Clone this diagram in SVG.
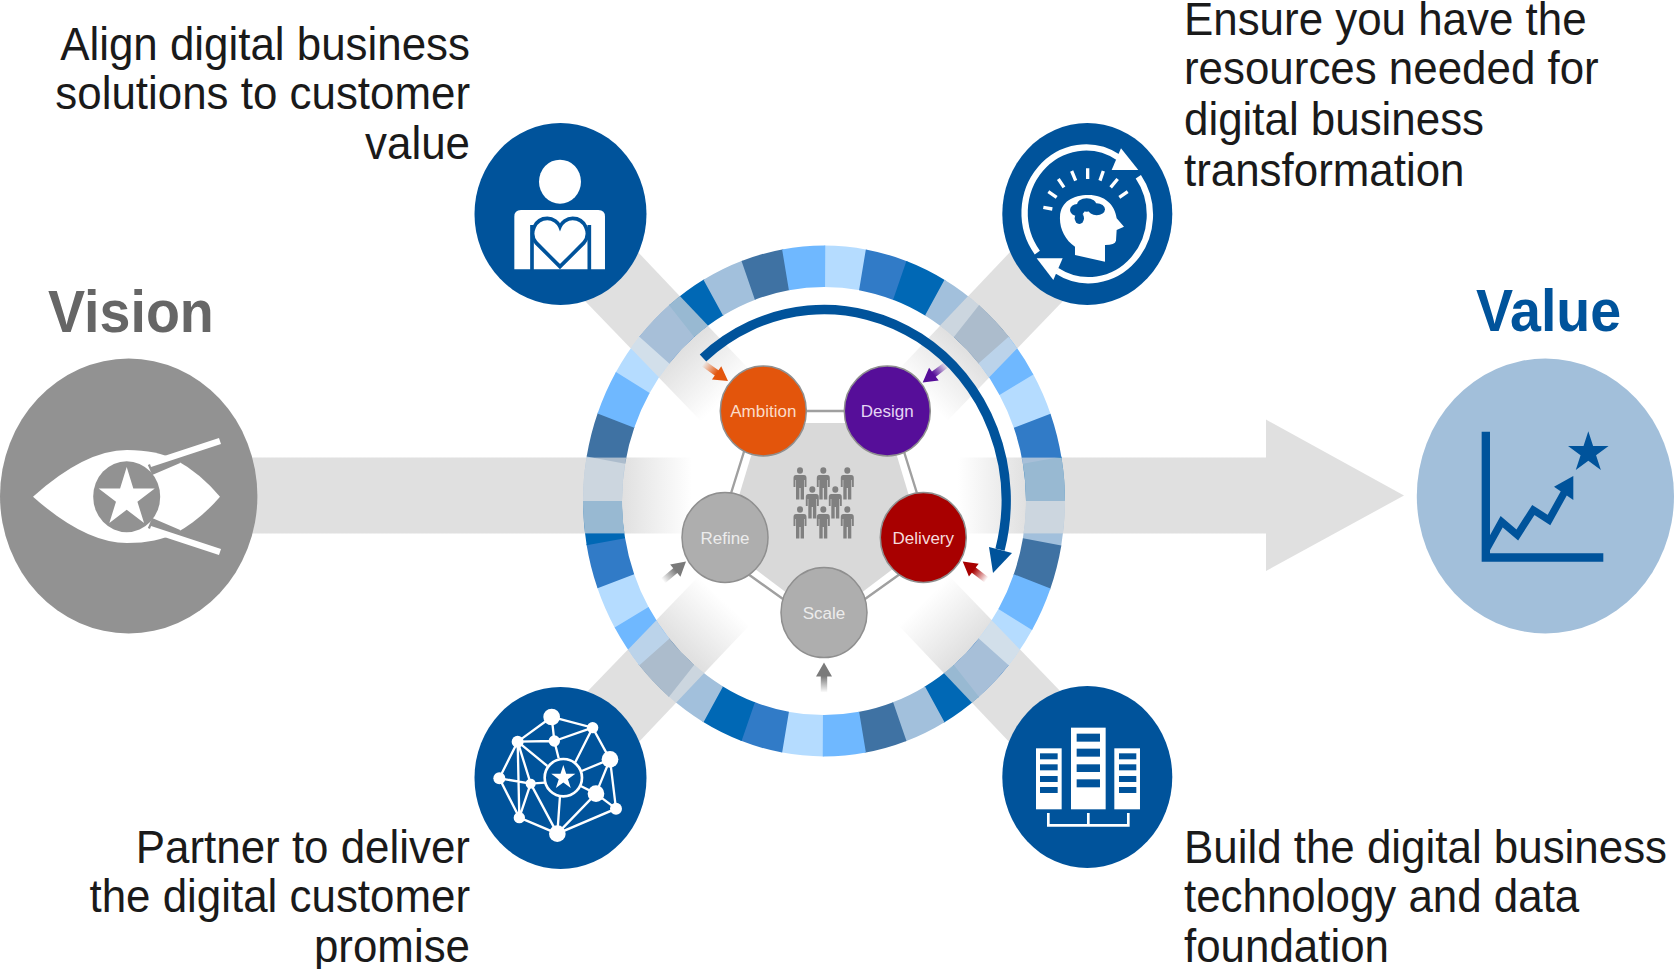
<svg xmlns="http://www.w3.org/2000/svg" width="1674" height="969" viewBox="0 0 1674 969">
<style>
text{font-family:"Liberation Sans",Arial,sans-serif}
.body{font-size:43.9px;fill:#1a1a1a}
.end{text-anchor:end}
.big{font-size:55.6px;font-weight:bold}
.nl{font-size:17px;text-anchor:middle}
.ov{fill:#e0e0e0;opacity:.68}
.seg{fill:none;stroke-width:39;stroke-dasharray:10.3 49.7}
.icon{fill:#00539b}
.n{stroke:#8f8f8f;stroke-width:1.5}
.ln{stroke:#a0a0a0;stroke-width:2.4;fill:none}
.w{fill:#fff}
.d{fill:#00539b}
.wl{stroke:#fff;fill:none}
</style>
<defs>
<polygon id="star" points="0,-1 .2245,-.309 .951,-.309 .363,.118 .588,.809 0,.382 -.588,.809 -.363,.118 -.951,-.309 -.2245,-.309"/>
<g id="person" fill="#808080"><ellipse cx="0" cy="-13.5" rx="3" ry="3.2"/><path d="M-4,-9H4Q6.5,-9 6.5,-6V3H4.6V-4H4V15.5H.6V4H-.6V15.5H-4V-4H-4.6V3H-6.5V-6Q-6.5,-9 -4,-9Z"/></g>
<polygon id="sa" points="0,0 8,14 3.2,14 3.2,30 -3.2,30 -3.2,14 -8,14"/>
<linearGradient id="ga" x1="0" y1="0" x2="0" y2="1"><stop offset=".45" stop-color="#e3550c"/><stop offset="1" stop-color="#e3550c" stop-opacity="0"/></linearGradient>
<linearGradient id="gd" x1="0" y1="0" x2="0" y2="1"><stop offset=".45" stop-color="#560e99"/><stop offset="1" stop-color="#560e99" stop-opacity="0"/></linearGradient>
<linearGradient id="gl" x1="0" y1="0" x2="0" y2="1"><stop offset=".45" stop-color="#a80000"/><stop offset="1" stop-color="#a80000" stop-opacity="0"/></linearGradient>
<linearGradient id="gg" x1="0" y1="0" x2="0" y2="1"><stop offset=".45" stop-color="#7a7a7a"/><stop offset="1" stop-color="#7a7a7a" stop-opacity="0"/></linearGradient>
<linearGradient id="bl" gradientUnits="userSpaceOnUse" x1="622" y1="0" x2="692" y2="0"><stop offset="0" stop-color="#e0e0e0"/><stop offset="1" stop-color="#e0e0e0" stop-opacity="0"/></linearGradient>
<linearGradient id="br" gradientUnits="userSpaceOnUse" x1="1027" y1="0" x2="958" y2="0"><stop offset="0" stop-color="#e0e0e0"/><stop offset="1" stop-color="#e0e0e0" stop-opacity="0"/></linearGradient>
<linearGradient id="bnw" gradientUnits="userSpaceOnUse" x1="681" y1="350" x2="726" y2="397"><stop offset="0" stop-color="#e0e0e0"/><stop offset="1" stop-color="#e0e0e0" stop-opacity="0"/></linearGradient>
<linearGradient id="bne" gradientUnits="userSpaceOnUse" x1="967" y1="350" x2="922" y2="397"><stop offset="0" stop-color="#e0e0e0"/><stop offset="1" stop-color="#e0e0e0" stop-opacity="0"/></linearGradient>
<linearGradient id="bsw" gradientUnits="userSpaceOnUse" x1="681" y1="650" x2="726" y2="603"><stop offset="0" stop-color="#e0e0e0"/><stop offset="1" stop-color="#e0e0e0" stop-opacity="0"/></linearGradient>
<linearGradient id="bse" gradientUnits="userSpaceOnUse" x1="967" y1="650" x2="922" y2="603"><stop offset="0" stop-color="#e0e0e0"/><stop offset="1" stop-color="#e0e0e0" stop-opacity="0"/></linearGradient>
<clipPath id="ann"><path clip-rule="evenodd" d="M583,501a241,255.5 0 1,0 482,0a241,255.5 0 1,0 -482,0Z M622,501a202,214 0 1,0 404,0a202,214 0 1,0 -404,0Z"/></clipPath>
</defs>

<g id="bands">
<path fill="url(#bl)" d="M240,457.6H692V533.4H240Z"/>
<path fill="url(#br)" d="M958,457.6H1266V419.6L1404,495.5L1266,571V533.4H958Z"/>
<polygon fill="url(#bnw)" points="600,212 765,386 723,444 530,244"/>
<polygon fill="url(#bne)" points="1048,212 883,386 925,444 1118,244"/>
<polygon fill="url(#bsw)" points="600,783 765,609 723,551 530,751"/>
<polygon fill="url(#bse)" points="1048,783 883,609 925,551 1118,751"/>
</g>

<g id="ring">
<g transform="translate(824,501) scale(1,1.06)">
<circle class="seg" r="221.5" pathLength="360" stroke="#b5dcff" transform="rotate(-90)"/>
<circle class="seg" r="221.5" pathLength="360" stroke="#317bc7" transform="rotate(-80)"/>
<circle class="seg" r="221.5" pathLength="360" stroke="#0068b5" transform="rotate(-70)"/>
<circle class="seg" r="221.5" pathLength="360" stroke="#a2c0dc" transform="rotate(-60)"/>
<circle class="seg" r="221.5" pathLength="360" stroke="#3f72a3" transform="rotate(-50)"/>
<circle class="seg" r="221.5" pathLength="360" stroke="#6fb8ff" transform="rotate(-40)"/>
</g>
<g clip-path="url(#ann)">
<rect class="ov" x="570" y="457.6" width="510" height="75.8"/>
<polygon class="ov" points="600,212 745,364.6 703,423 530,244"/>
<polygon class="ov" points="1048,212 903,364.6 945,423 1118,244"/>
<polygon class="ov" points="600,783 745,630 703,572 530,751"/>
<polygon class="ov" points="1048,783 903,630 945,572 1118,751"/>
</g>
</g>

<g id="connectors">
<polygon fill="#d9d9d9" points="761,423 887,423 924,545.5 824,621 724,545.5"/>
<path class="ln" d="M763.3,411H887.3M747,442L728,503M901,442L920,503M748,574L790,604M900,574L858,604"/>
<path d="M703,358A182,191 0 0 1 1000,549.7" fill="none" stroke="#00539b" stroke-width="9.5"/>
<polygon fill="#00539b" points="989,547 1012,553 993,573"/>
<use href="#sa" fill="url(#ga)" transform="translate(728,381) rotate(125.5)"/>
<use href="#sa" fill="url(#gd)" transform="translate(922.7,382.6) rotate(-127)"/>
<use href="#sa" fill="url(#gl)" transform="translate(962.7,561.6) rotate(-52.5)"/>
<use href="#sa" fill="url(#gg)" transform="translate(686,561.6) rotate(50)"/>
<use href="#sa" fill="url(#gg)" transform="translate(824,662.6)"/>
</g>

<g id="people">
<use href="#person" x="800" y="484"/><use href="#person" x="823.3" y="484"/><use href="#person" x="847.3" y="484"/>
<use href="#person" x="812.3" y="503"/><use href="#person" x="835.3" y="503"/>
<use href="#person" x="800" y="523"/><use href="#person" x="823.3" y="523"/><use href="#person" x="847.3" y="523"/>
</g>

<g id="ambition"><ellipse class="n" cx="763.3" cy="411" rx="43" ry="45" fill="#e3550c"/><text class="nl" x="763.3" y="417" fill="#fbdcc8">Ambition</text></g>
<g id="design"><ellipse class="n" cx="887.3" cy="411" rx="43" ry="45" fill="#560e99"/><text class="nl" x="887.3" y="417" fill="#e5d6f4">Design</text></g>
<g id="delivery"><ellipse class="n" cx="923.3" cy="537.5" rx="43" ry="45" fill="#a80000"/><text class="nl" x="923.3" y="544" fill="#f6dcdc">Delivery</text></g>
<g id="scale"><ellipse class="n" cx="824" cy="612.6" rx="43" ry="45" fill="#aeaeae"/><text class="nl" x="824" y="619" fill="#ececec">Scale</text></g>
<g id="refine"><ellipse class="n" cx="725" cy="537.5" rx="43" ry="45" fill="#aeaeae"/><text class="nl" x="725" y="544" fill="#ececec">Refine</text></g>

<g id="vision">
<ellipse cx="128.7" cy="496" rx="128.7" ry="137.5" fill="#929292"/>
<path class="w" d="M33,496.7Q85,450 127,450Q157,450 176,460Q200,473 220,496.7Q200,520 176,533Q157,543 127,543Q85,543 33,496.7Z"/>
<ellipse cx="126.7" cy="496.7" rx="33.5" ry="35.5" fill="#929292"/>
<use href="#star" class="w" transform="translate(126.7,498) scale(29.5,31)"/>
<path d="M150,470L178,458M150,523L178,535" stroke="#929292" stroke-width="11" fill="none"/>
<path d="M150,464L220,441M150,529L220,552" stroke="#fff" stroke-width="6.5" fill="none"/>
<text class="big" transform="translate(48,332) scale(1,1.06)" fill="#666">Vision</text>
</g>

<g id="value">
<ellipse cx="1545.4" cy="496" rx="128.6" ry="137.5" fill="#a2bfda"/>
<g transform="translate(1400,340) scale(.3333)">
<path class="d" d="M245,275H270V640H610V665H245Z"/>
<path d="M258,630L305,545L352,585L400,510L447,540L497,450" fill="none" stroke="#00539b" stroke-width="22"/>
<polygon class="d" points="520,408 462,440 520,480"/>
<use href="#star" class="d" transform="translate(565,338) scale(64)"/>
</g>
<text class="big" transform="translate(1476,331) scale(1,1.06)" fill="#00539b">Value</text>
</g>

<g id="align">
<ellipse class="icon" cx="560.5" cy="214" rx="86" ry="91"/>
<g transform="translate(460,110) scale(.3333)">
<ellipse class="w" cx="300" cy="215" rx="63" ry="66"/>
<path class="w" d="M163,478V320Q163,300 183,300H415Q435,300 435,320V478Z"/>
<path d="M216,345V482M388,345V482" stroke="#00539b" stroke-width="11" fill="none"/>
<path class="w" d="M300,470L228,398C205,370 225,325 262,325C280,325 295,338 300,350C305,338 320,325 338,325C375,325 395,370 372,398Z" stroke="#00539b" stroke-width="11"/>
</g>
<g class="body"><text class="end" transform="translate(470,60) scale(1,1.06)">Align digital business</text>
<text class="end" transform="translate(470,109) scale(1,1.06)">solutions to customer</text>
<text class="end" transform="translate(470,159) scale(1,1.06)">value</text></g>
</g>

<g id="resources">
<ellipse class="icon" cx="1087.3" cy="214" rx="85" ry="91"/>
<g transform="translate(990,110) scale(.3333)">
<path class="wl" stroke-width="19" d="M142,428A184,196 0 0 1 385,142"/>
<polygon class="w" points="393,115 445,180 365,180"/>
<path class="wl" stroke-width="19" d="M445,200A184,196 0 0 1 200,482"/>
<polygon class="w" points="140,445 218,445 190,510"/>
<path class="wl" stroke-width="10" d="M160,292L187,297M175,245L200,262M205,207L222,232M245,183L257,212M293,175V207M340,183L330,212M383,207L362,232M413,245L388,262"/>
<path class="w" d="M255,435V410C225,390 208,355 210,320C212,275 250,255 295,255C345,255 375,285 380,325L402,350L380,360L378,392Q375,405 345,405V455Z"/>
<g class="d"><ellipse cx="262" cy="300" rx="22" ry="18"/><ellipse cx="290" cy="285" rx="30" ry="20"/><ellipse cx="320" cy="298" rx="25" ry="18"/><ellipse cx="268" cy="325" rx="14" ry="17"/></g>
</g>
<g class="body"><text transform="translate(1184,35) scale(1,1.06)">Ensure you have the</text>
<text transform="translate(1184,84) scale(1,1.06)">resources needed for</text>
<text transform="translate(1184,135) scale(1,1.06)">digital business</text>
<text transform="translate(1184,185.5) scale(1,1.06)">transformation</text></g>
</g>

<g id="partner">
<ellipse class="icon" cx="560.5" cy="778" rx="86" ry="91"/>
<g transform="translate(460,671) scale(.3333)">
<path class="wl" stroke-width="7" d="M275,138L398,170L450,265L468,413L292,488L178,440L118,322L173,212L275,138L283,210L398,170M173,212L283,210M173,212L262,285M283,210L296,262M398,170L345,275M450,265L365,300M408,368L362,345M408,368L292,488M408,368L468,413M408,368L450,265M300,375L292,488M212,338L292,488M212,338L178,440M212,338L118,322M212,338L173,212M212,338L255,335M173,212L178,440"/>
<g class="w"><circle cx="275" cy="138" r="25"/><circle cx="398" cy="170" r="17"/><circle cx="450" cy="265" r="25"/><circle cx="468" cy="413" r="18"/><circle cx="408" cy="368" r="25"/><circle cx="292" cy="488" r="25"/><circle cx="178" cy="440" r="17"/><circle cx="118" cy="322" r="18"/><circle cx="173" cy="212" r="18"/><circle cx="283" cy="210" r="17"/><circle cx="212" cy="338" r="15"/></g>
<circle cx="310" cy="320" r="56" fill="#00539b" stroke="#fff" stroke-width="8"/>
<use href="#star" class="w" transform="translate(310,320) scale(38)"/>
</g>
<g class="body"><text class="end" transform="translate(470,862.5) scale(1,1.06)">Partner to deliver</text>
<text class="end" transform="translate(470,912) scale(1,1.06)">the digital customer</text>
<text class="end" transform="translate(470,962) scale(1,1.06)">promise</text></g>
</g>

<g id="build">
<ellipse class="icon" cx="1087.3" cy="777" rx="85" ry="91"/>
<g transform="translate(990,671) scale(.3333)">
<rect class="w" x="138" y="232" width="77" height="183"/><rect class="w" x="243" y="170" width="104" height="245"/><rect class="w" x="373" y="232" width="77" height="183"/>
<g class="d"><rect x="260" y="188" width="70" height="24"/><rect x="260" y="233" width="70" height="24"/><rect x="260" y="280" width="70" height="23"/><rect x="260" y="325" width="70" height="24"/>
<rect x="150" y="247" width="53" height="18"/><rect x="150" y="280" width="53" height="18"/><rect x="150" y="315" width="53" height="18"/><rect x="150" y="348" width="53" height="18"/>
<rect x="387" y="247" width="52" height="18"/><rect x="387" y="280" width="52" height="18"/><rect x="387" y="315" width="52" height="18"/><rect x="387" y="348" width="52" height="18"/></g>
<path class="wl" stroke-width="8" d="M175,426V463H415V426M295,426V463"/>
</g>
<g class="body"><text transform="translate(1184,862.5) scale(1,1.06)">Build the digital business</text>
<text transform="translate(1184,912) scale(1,1.06)">technology and data</text>
<text transform="translate(1184,962) scale(1,1.06)">foundation</text></g>
</g>
</svg>
